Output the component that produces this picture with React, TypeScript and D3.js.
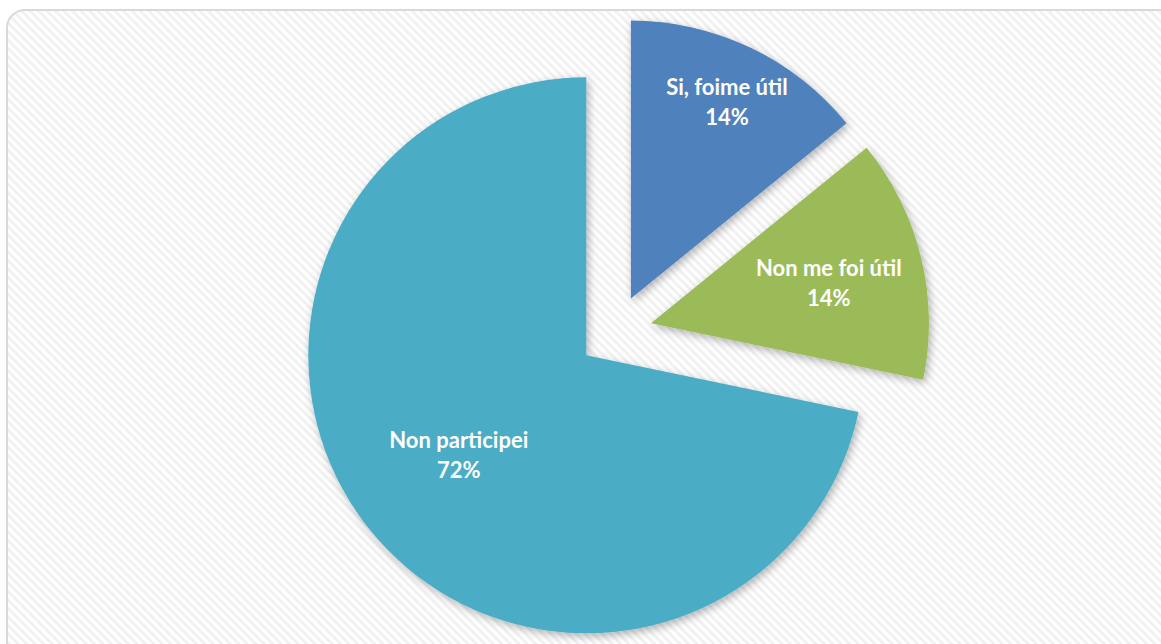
import React from "react";
import * as d3 from "d3";

// Chart data
const categories = ["Si, foime útil", "Non me foi útil", "Non participei"];
const values = [13, 13, 66];
const colors = ["#4F81BD", "#9BBB59", "#4BACC6"];
// label placement: fraction of radius, and angle shift (deg) from slice middle
const labelRadius = [0.76, 0.65, 0.6];
const labelShift = [1.6, 3.5, -1];

const W = 1161;
const H = 644;
const CX = 615;
const CY = 332;
const R = 278;
const EXPLODE = 37;
const FONT = 22;

export default function App() {
  const pie = d3
    .pie<number>()
    .sort(null)
    .value((d) => d)
    .startAngle(0)
    .endAngle(2 * Math.PI);
  const arcs = pie(values);
  const total = d3.sum(values);
  const arc = d3.arc<d3.PieArcDatum<number>>().innerRadius(0).outerRadius(R);

  return (
    <svg
      width={W}
      height={H}
      style={{ position: "absolute", left: 0, top: 0, background: "#fff" }}
    >
      <defs>
        <pattern
          id="hatch"
          width="6"
          height="6"
          patternUnits="userSpaceOnUse"
          patternTransform="rotate(-45)"
        >
          <rect width="6" height="6" fill="#ffffff" />
          <line x1="1.5" y1="0" x2="1.5" y2="6" stroke="#efefef" strokeWidth="2.5" />
        </pattern>
        <filter id="shadow" x="-20%" y="-20%" width="140%" height="140%">
          <feDropShadow dx="2" dy="3" stdDeviation="4" floodColor="#000" floodOpacity="0.3" />
        </filter>
      </defs>

      {/* chart area */}
      <rect
        x={7}
        y={10}
        width={W + 20}
        height={H + 20}
        rx={18}
        fill="url(#hatch)"
        stroke="#d9d9d9"
        strokeWidth={2}
      />

      {arcs.map((a, i) => {
        const mid = (a.startAngle + a.endAngle) / 2;
        const ox = CX + EXPLODE * Math.sin(mid);
        const oy = CY - EXPLODE * Math.cos(mid);
        return (
          <g key={"s" + i} transform={`translate(${ox},${oy})`}>
            <path d={arc(a) || ""} fill={colors[i]} filter="url(#shadow)" />
          </g>
        );
      })}

      {arcs.map((a, i) => {
        const mid = (a.startAngle + a.endAngle) / 2;
        const ox = CX + EXPLODE * Math.sin(mid);
        const oy = CY - EXPLODE * Math.cos(mid);
        const la = mid + (labelShift[i] * Math.PI) / 180;
        const lr = R * labelRadius[i];
        const lx = ox + lr * Math.sin(la);
        const ly = oy - lr * Math.cos(la);
        const pct = d3.format(".0%")(values[i] / total);
        return (
          <text
            key={"l" + i}
            x={lx}
            y={ly}
            textAnchor="middle"
            fill="#ffffff"
            fontFamily="Lato, 'Open Sans', sans-serif"
            fontWeight="bold"
            fontSize={FONT}
          >
            <tspan x={lx} dy={-15}>
              {categories[i]}
            </tspan>
            <tspan x={lx} dy={30}>
              {pct}
            </tspan>
          </text>
        );
      })}
    </svg>
  );
}
